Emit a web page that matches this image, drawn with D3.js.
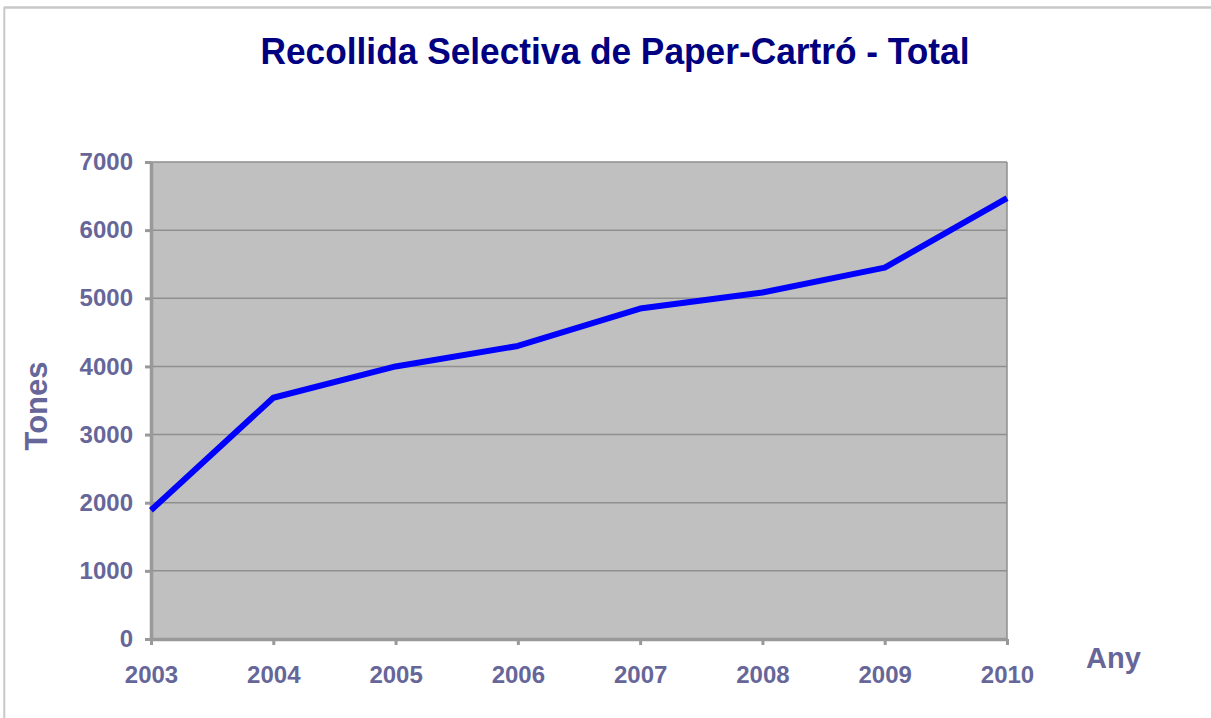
<!DOCTYPE html>
<html>
<head>
<meta charset="utf-8">
<script src="https://cdn.jsdelivr.net/npm/d3@7"></script>
<style>
  body { margin: 0; background: #fff; }
  svg { display: block; font-family: "Liberation Sans", Arial, sans-serif; }
</style>
</head>
<body>
<svg width="1211" height="718"></svg>
<script>
// chart data
var years = ["2003", "2004", "2005", "2006", "2007", "2008", "2009", "2010"];
var tones = [1890, 3540, 4000, 4300, 4850, 5085, 5450, 6470];
var yTicks = [0, 1000, 2000, 3000, 4000, 5000, 6000, 7000];
var title = "Recollida Selectiva de Paper-Cartró - Total";

var labelColor = "#666699";

var svg = d3.select("svg");

// frame lines (top and left of the picture)
svg.append("line").attr("x1", 4).attr("x2", 1211).attr("y1", 7.5).attr("y2", 7.5)
    .attr("stroke", "#c8c8c8").attr("stroke-width", 2.5);
svg.append("line").attr("x1", 4.3).attr("x2", 4.3).attr("y1", 7).attr("y2", 718)
    .attr("stroke", "#c8c8c8").attr("stroke-width", 2);

// plot area
var plotLeft = 151, plotRight = 1007, plotTop = 162, plotBottom = 639;

var x = d3.scalePoint().domain(years).range([plotLeft, plotRight]).padding(0);
var y = d3.scaleLinear().domain([0, 7000]).range([plotBottom, plotTop]);

svg.append("rect")
    .attr("x", plotLeft).attr("y", plotTop)
    .attr("width", plotRight - plotLeft).attr("height", plotBottom - plotTop)
    .attr("fill", "#c0c0c0");

// gridlines
svg.append("g")
    .selectAll("line")
    .data(yTicks.filter(function(d) { return d > 0; }))
    .enter().append("line")
    .attr("x1", plotLeft).attr("x2", plotRight)
    .attr("y1", function(d) { return y(d); })
    .attr("y2", function(d) { return y(d); })
    .attr("stroke", "#8f8f8f")
    .attr("stroke-width", 1.5);

// right border of plot
svg.append("line").attr("x1", plotRight).attr("x2", plotRight)
    .attr("y1", plotTop).attr("y2", plotBottom)
    .attr("stroke", "#8f8f8f").attr("stroke-width", 1.5);

// y axis
var yAxis = svg.append("g")
    .attr("transform", "translate(" + plotLeft + ",0)")
    .call(d3.axisLeft(y).tickValues(yTicks).tickFormat(d3.format("d"))
        .tickSize(6).tickPadding(12).tickSizeOuter(0));

// x axis
var xAxis = svg.append("g")
    .attr("transform", "translate(0," + plotBottom + ")")
    .call(d3.axisBottom(x).tickSize(6).tickPadding(21).tickSizeOuter(0));

[yAxis, xAxis].forEach(function(g) {
    g.select(".domain").attr("stroke", "#999999").attr("stroke-width", 3.5);
    g.selectAll(".tick line").attr("stroke", "#999999").attr("stroke-width", 3);
    g.selectAll(".tick text")
        .attr("fill", labelColor)
        .attr("font-size", 24)
        .attr("font-weight", "bold")
        .attr("font-family", "'Liberation Sans', Arial, sans-serif");
});

// the line
var line = d3.line()
    .x(function(d, i) { return x(years[i]); })
    .y(function(d) { return y(d); });

svg.append("path")
    .datum(tones)
    .attr("d", line)
    .attr("fill", "none")
    .attr("stroke", "#0000ff")
    .attr("stroke-width", 6)
    .attr("stroke-linejoin", "round");

// title
svg.append("text")
    .attr("x", 615).attr("y", 64)
    .attr("text-anchor", "middle")
    .attr("font-size", 36)
    .attr("font-weight", "bold")
    .attr("fill", "#000080")
    .attr("textLength", 709)
    .attr("lengthAdjust", "spacingAndGlyphs")
    .text(title);

// axis titles
svg.append("text")
    .attr("transform", "translate(47,406) rotate(-90)")
    .attr("text-anchor", "middle")
    .attr("font-size", 31)
    .attr("font-weight", "bold")
    .attr("fill", labelColor)
    .text("Tones");

svg.append("text")
    .attr("x", 1086).attr("y", 668)
    .attr("font-size", 29)
    .attr("font-weight", "bold")
    .attr("fill", labelColor)
    .text("Any");
</script>
</body>
</html>
